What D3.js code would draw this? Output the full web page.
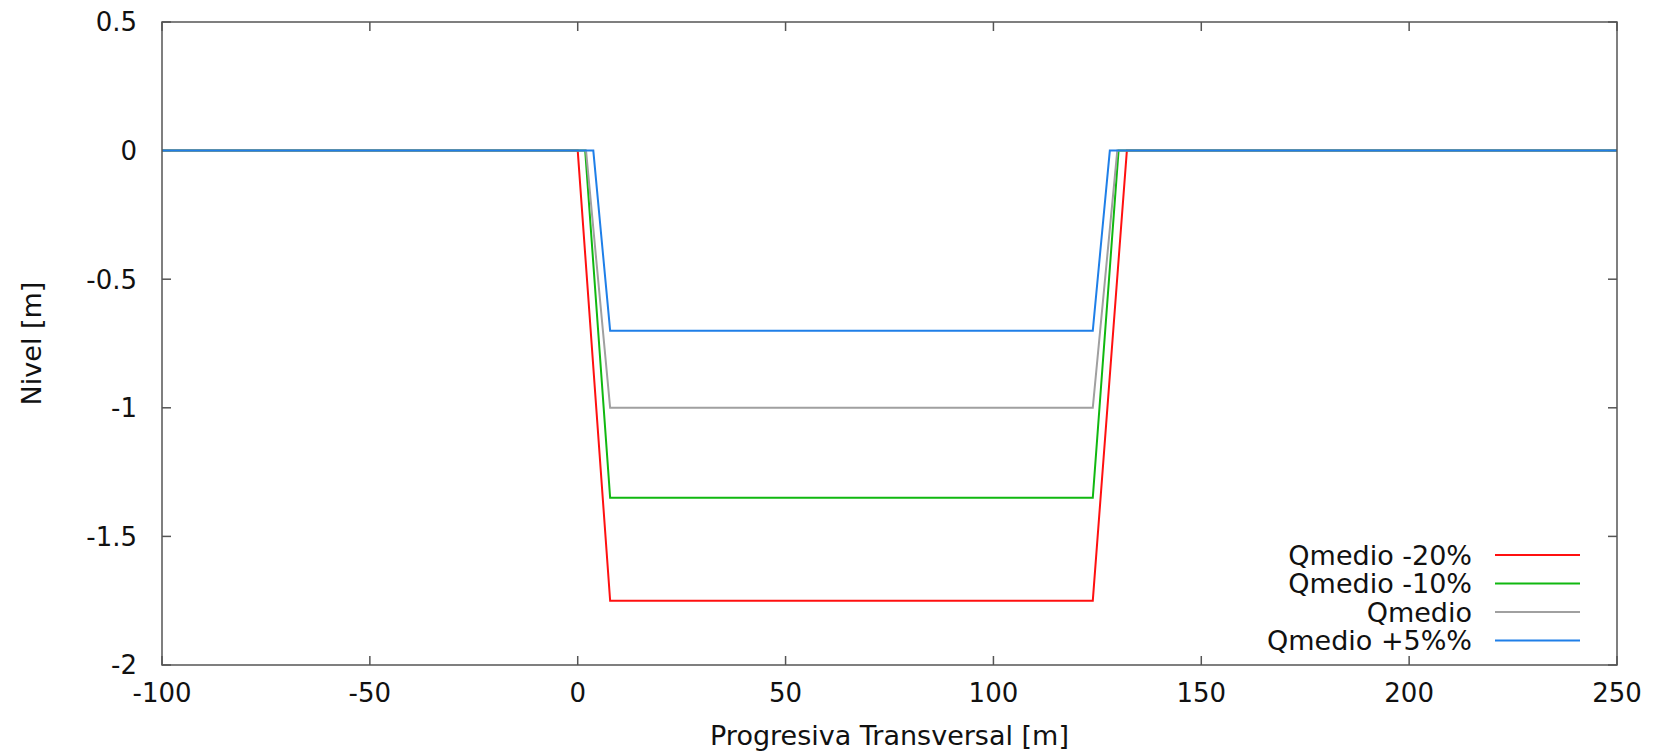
<!DOCTYPE html>
<html>
<head>
<meta charset="utf-8">
<script src="https://cdn.jsdelivr.net/npm/d3@7"></script>
<style>
  body { margin: 0; background: #fff; }
  svg { display: block; font-family: "DejaVu Sans", sans-serif; }
</style>
</head>
<body>
<svg id="canvas" width="1654" height="754"></svg>
<script>
// series names, colours and profile points (x = progresiva, y = nivel)
let seriesNames = ["Qmedio -20%", "Qmedio -10%", "Qmedio", "Qmedio +5%%"]
let seriesColors = ["#ff1010", "#10b810", "#a0a0a0", "#1f7fe8"]

let red_x = [-100, 0, 7.8, 123.9, 132.1, 250]
let red_y = [0, 0, -1.75, -1.75, 0, 0]
let green_x = [-100, 1.8, 7.8, 123.9, 130.1, 250]
let green_y = [0, 0, -1.35, -1.35, 0, 0]
let grey_x = [-100, 2.0, 7.8, 123.9, 129.8, 250]
let grey_y = [0, 0, -1.0, -1.0, 0, 0]
let blue_x = [-100, 3.75, 7.8, 123.9, 128.0, 250]
let blue_y = [0, 0, -0.7, -0.7, 0, 0]

let xTicks = [-100, -50, 0, 50, 100, 150, 200, 250]
let yTicks = [0.5, 0, -0.5, -1, -1.5, -2]

let allX = [red_x, green_x, grey_x, blue_x]
let allY = [red_y, green_y, grey_y, blue_y]

let canvas = d3.select("#canvas")
let margin = { left: 162, top: 22, right: 1654 - 1617, bottom: 754 - 665 }
let width = 1654 - margin.left - margin.right
let height = 754 - margin.top - margin.bottom

let x = d3.scaleLinear().domain([-100, 250]).range([0, width])
let y = d3.scaleLinear().domain([-2, 0.5]).range([height, 0])

let g = canvas.append("g").attr("transform", "translate(" + margin.left + "," + margin.top + ")")

//Tick marks on all four sides (pointing inward), labels on left and bottom
let tickLen = 9
let frameColor = "#555"
let fontSize = "26px"
xTicks.forEach(t => {
    g.append("line").attr("x1", x(t)).attr("x2", x(t)).attr("y1", height).attr("y2", height - tickLen)
        .attr("stroke", frameColor).attr("stroke-width", 1.5)
    g.append("line").attr("x1", x(t)).attr("x2", x(t)).attr("y1", 0).attr("y2", tickLen)
        .attr("stroke", frameColor).attr("stroke-width", 1.5)
    g.append("text").attr("x", x(t)).attr("y", height + 37)
        .attr("text-anchor", "middle").style("font-size", fontSize).attr("fill", "#111")
        .text(t)
})
yTicks.forEach(t => {
    g.append("line").attr("x1", 0).attr("x2", tickLen).attr("y1", y(t)).attr("y2", y(t))
        .attr("stroke", frameColor).attr("stroke-width", 1.5)
    g.append("line").attr("x1", width).attr("x2", width - tickLen).attr("y1", y(t)).attr("y2", y(t))
        .attr("stroke", frameColor).attr("stroke-width", 1.5)
    g.append("text").attr("x", -25).attr("y", y(t)).attr("dy", "0.36em")
        .attr("text-anchor", "end").style("font-size", fontSize).attr("fill", "#111")
        .text(t)
})

//Lines
let line = d3.line().x(d => x(d[0])).y(d => y(d[1]))
seriesNames.forEach((name, i) => {
    let pts = allX[i].map((v, j) => [v, allY[i][j]])
    g.append("path").datum(pts).attr("d", line)
        .attr("fill", "none").attr("stroke", seriesColors[i]).attr("stroke-width", 2)
})

//Frame
g.append("rect").attr("x", 0).attr("y", 0).attr("width", width).attr("height", height)
    .attr("fill", "none").attr("stroke", frameColor).attr("stroke-width", 1.5)

//Legend
seriesNames.forEach((name, i) => {
    let ly = 555 - margin.top + i * 28.5
    g.append("text").attr("x", 1472 - margin.left).attr("y", ly).attr("dy", "0.36em")
        .attr("text-anchor", "end").style("font-size", "27px").attr("fill", "#111")
        .text(name)
    g.append("line").attr("x1", 1495 - margin.left).attr("x2", 1580 - margin.left)
        .attr("y1", ly).attr("y2", ly)
        .attr("stroke", seriesColors[i]).attr("stroke-width", 2)
})

//Axis labels
canvas.append("text").attr("x", margin.left + width / 2).attr("y", 745)
    .attr("text-anchor", "middle").style("font-size", "27px").attr("fill", "#111")
    .text("Progresiva Transversal [m]")
canvas.append("text").attr("transform", "translate(41," + (margin.top + height / 2) + ") rotate(-90)")
    .attr("text-anchor", "middle").style("font-size", "27px").attr("fill", "#111")
    .text("Nivel [m]")
</script>
</body>
</html>
